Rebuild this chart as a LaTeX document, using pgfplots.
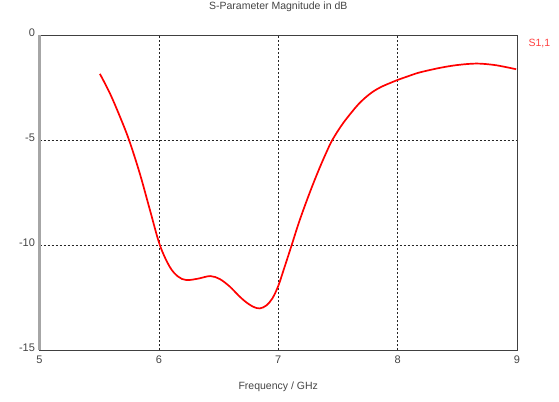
\documentclass[border=0pt]{standalone}
\usepackage{pgfplots}
\pgfplotsset{compat=1.18}
\usepackage{fontspec}
\setmainfont{Liberation Sans}
\definecolor{txt}{HTML}{444444}
\definecolor{sred}{HTML}{FF4040}
\begin{document}
\begin{tikzpicture}
\begin{axis}[
  scale only axis,
  width=477.5bp, height=315bp,
  xmin=5, xmax=9, ymin=-15, ymax=0,
  xtick={5,6,7,8,9}, ytick={-15,-10,-5,0},
  major tick length=0pt,
  grid=major,
  major grid style={black!85, line width=0.6bp, dash pattern=on 2bp off 2bp},
  axis line style={black!75, line width=0.8bp},
  tick label style={font=\fontsize{11bp}{12bp}\selectfont, text=txt},
  /pgf/number format/assume math mode=true,
  xticklabel style={yshift=-2bp},
  yticklabel style={xshift=-1bp, yshift=2bp},
  title={S-Parameter Magnitude in dB},
  title style={font=\fontsize{10.5bp}{12bp}\selectfont, text=txt, at={(0.5,1)}, anchor=south, yshift=14bp},
  xlabel={Frequency / GHz},
  xlabel style={font=\fontsize{10.5bp}{12bp}\selectfont, text=txt, yshift=-12bp},
  clip=false,
]
\addplot[red, line width=1.7bp, smooth, tension=0.55] coordinates {
(5.506,-1.85) (5.59,-2.78) (5.674,-3.89) (5.75,-5.0) (5.84,-6.59) (5.925,-8.33)
(6.008,-10.0) (6.09,-11.03) (6.16,-11.5) (6.23,-11.67) (6.33,-11.6) (6.43,-11.48)
(6.51,-11.62) (6.594,-11.98) (6.67,-12.42) (6.73,-12.72) (6.79,-12.94) (6.845,-13.02)
(6.9,-12.88) (6.95,-12.55) (7.0,-11.95) (7.05,-11.1) (7.11,-10.05) (7.17,-8.98)
(7.23,-8.02) (7.29,-7.12) (7.35,-6.28) (7.40,-5.63) (7.453,-5.0) (7.542,-4.21) (7.654,-3.41)
(7.72,-3.03) (7.793,-2.70) (7.87,-2.45) (7.94,-2.28) (8.0,-2.14) (8.09,-1.96) (8.18,-1.79) (8.35,-1.57) (8.5,-1.43) (8.66,-1.36)
(8.8,-1.42) (8.9,-1.52) (8.993,-1.63)
};
\draw[gray!70, line width=2bp] (rel axis cs:0,0) -- (rel axis cs:0,1);
\node[anchor=north west, text=sred, font=\fontsize{10.5bp}{12bp}\selectfont] at ([xshift=8bp,yshift=-1bp]rel axis cs:1,1) {S1,1};
\coordinate (O) at (rel axis cs:0,0);
\end{axis}
\pgfresetboundingbox
\path ([xshift=-39.5bp,yshift=-52bp]O) rectangle ++(559bp,402bp);
\end{tikzpicture}
\end{document}
